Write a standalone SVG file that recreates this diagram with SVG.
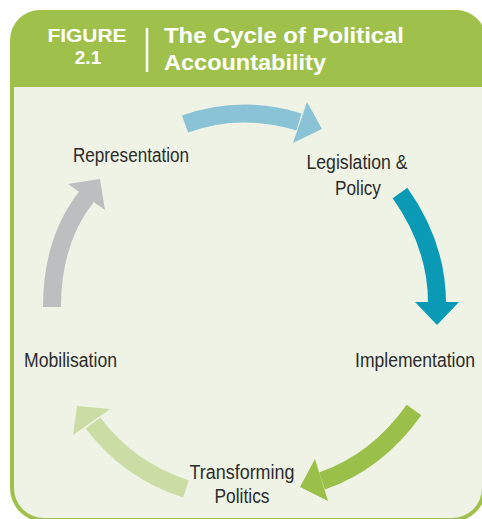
<svg xmlns="http://www.w3.org/2000/svg" width="482" height="519" viewBox="0 0 482 519">
<style>
.hd{font-family:"Liberation Sans",Arial,sans-serif;font-weight:bold;fill:#ffffff}
.lb{font-family:"Liberation Sans",Arial,sans-serif;font-size:20px;fill:#2b2b2b}
.shaft{fill:none;stroke-width:18;stroke-linecap:butt}
</style>
<rect width="482" height="519" fill="#ffffff"/>
<g id="frame">
<path d="M40,10 H456 A30,30 0 0 1 486,40 V488 A34,34 0 0 1 452,522 H44 A34,34 0 0 1 10,488 V40 A30,30 0 0 1 40,10 Z" fill="#a0c04c"/>
<path d="M14,87 H482 V488 A30,30 0 0 1 452,518 H44 A30,30 0 0 1 14,488 Z" fill="#eff3e6"/>
<line x1="147" y1="28" x2="147" y2="72" stroke="#ffffff" stroke-width="2.5"/>
<text class="hd" x="87" y="42" font-size="19" text-anchor="middle" textLength="79" lengthAdjust="spacingAndGlyphs">FIGURE</text>
<text class="hd" x="88" y="64" font-size="19" text-anchor="middle">2.1</text>
<text class="hd" x="164" y="43" font-size="22.5" textLength="240" lengthAdjust="spacingAndGlyphs">The Cycle of Political</text>
<text class="hd" x="164" y="70" font-size="22.5" textLength="162" lengthAdjust="spacingAndGlyphs">Accountability</text>
</g>
<g id="connectors">
<g id="arrow-rep-leg">
<path class="shaft" stroke="#8bc3d6" d="M185,124 Q240,104 299,122"/>
<polygon fill="#8bc3d6" points="307,102 322,129 293,143"/>
</g>
<g id="arrow-leg-imp">
<path class="shaft" stroke="#0a9ab6" d="M400,193 Q437,245 437,303"/>
<polygon fill="#0a9ab6" points="415,302 459,302 437,325"/>
</g>
<g id="arrow-imp-tra">
<path class="shaft" stroke="#9bc04a" d="M414,410 Q377,462 322,481"/>
<polygon fill="#9bc04a" points="315,459 300,487 328,501"/>
</g>
<g id="arrow-tra-mob">
<path class="shaft" stroke="#ccdca5" d="M186,489 Q128,470 93,423"/>
<polygon fill="#ccdca5" points="110,409 77,406 73,435"/>
</g>
<g id="arrow-mob-rep">
<path class="shaft" stroke="#bcbec0" d="M52,307 Q52,240 87,196"/>
<polygon fill="#bcbec0" points="68,184 100,179 105,210"/>
</g>
</g>
<g id="node-representation"><text class="lb" x="131" y="162" text-anchor="middle" textLength="116" lengthAdjust="spacingAndGlyphs">Representation</text></g>
<g id="node-legislation">
<text class="lb" x="357" y="169" text-anchor="middle" textLength="101" lengthAdjust="spacingAndGlyphs">Legislation &amp;</text>
<text class="lb" x="358" y="195" text-anchor="middle" textLength="46" lengthAdjust="spacingAndGlyphs">Policy</text>
</g>
<g id="node-implementation"><text class="lb" x="415" y="367" font-size="18" text-anchor="middle" textLength="120" lengthAdjust="spacingAndGlyphs">Implementation</text></g>
<g id="node-transforming">
<text class="lb" x="242" y="479" text-anchor="middle" textLength="105" lengthAdjust="spacingAndGlyphs">Transforming</text>
<text class="lb" x="242" y="503" text-anchor="middle" textLength="55" lengthAdjust="spacingAndGlyphs">Politics</text>
</g>
<g id="node-mobilisation"><text class="lb" x="70.5" y="367" text-anchor="middle" textLength="93" lengthAdjust="spacingAndGlyphs">Mobilisation</text></g>
</svg>
